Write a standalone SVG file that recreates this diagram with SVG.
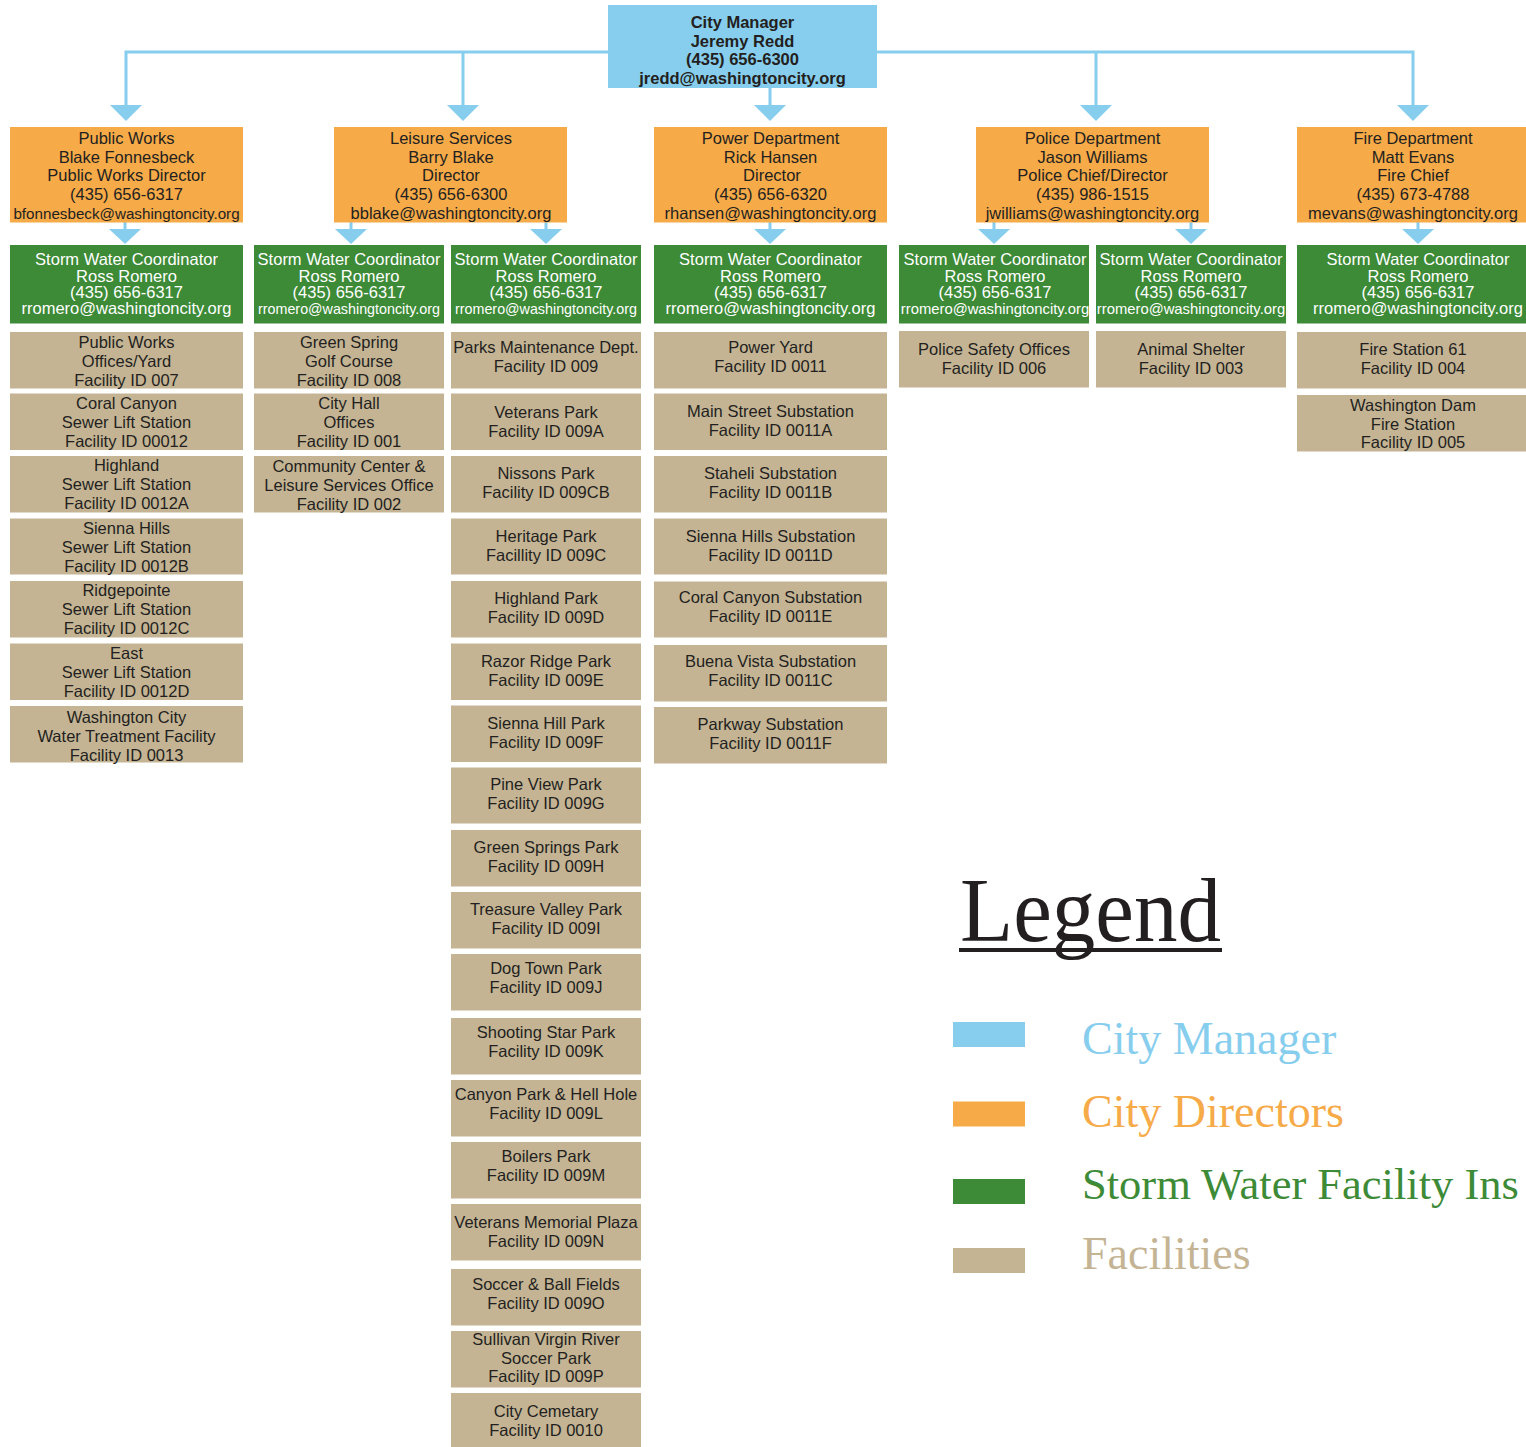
<svg xmlns="http://www.w3.org/2000/svg" width="1526" height="1447" viewBox="0 0 1526 1447">
<style>
.bg{fill:#ffffff}
.bm{fill:#87CEEE}
.bd{fill:#F6AA48}
.bs{fill:#3D8A37}
.bf{fill:#C4B494}
.t{font-family:"Liberation Sans",Arial,sans-serif;font-size:16.5px;fill:#231F20;text-anchor:middle}
.tb{font-weight:bold}
.tw{fill:#ffffff}
.sm{font-size:14.3px}
.conn{stroke:#87CEEE;stroke-width:3;fill:none}
.ah{fill:#87CEEE}
.lg{font-family:"Liberation Serif","Times New Roman",serif;font-size:46px}
</style>
<rect class="bg" x="0" y="0" width="1526" height="1447"/>

<g id="connectors">
  <path class="conn" d="M126,105 V52 H1413 V105 M463,52 V105 M1096,52 V105 M770,88 V105"/>
  <polygon class="ah" points="110,105 142,105 126,121"/>
  <polygon class="ah" points="447,105 479,105 463,121"/>
  <polygon class="ah" points="754,105 786,105 770,121"/>
  <polygon class="ah" points="1080,105 1112,105 1096,121"/>
  <polygon class="ah" points="1397,105 1429,105 1413,121"/>
  <path class="conn" d="M125,222 V230 M351,222 V230 M546,222 V230 M770,222 V230 M994,222 V230 M1191,222 V230 M1418,222 V230"/>
  <polygon class="ah" points="109,229 141,229 125,244"/>
  <polygon class="ah" points="335,229 367,229 351,244"/>
  <polygon class="ah" points="530,229 562,229 546,244"/>
  <polygon class="ah" points="754,229 786,229 770,244"/>
  <polygon class="ah" points="978,229 1010,229 994,244"/>
  <polygon class="ah" points="1175,229 1207,229 1191,244"/>
  <polygon class="ah" points="1402,229 1434,229 1418,244"/>
</g>

<g id="city-manager">
  <rect class="bm" x="608" y="5" width="269" height="83"/>
  <text class="t tb" x="742.5" y="28">City Manager</text>
  <text class="t tb" x="742.5" y="46.5">Jeremy Redd</text>
  <text class="t tb" x="742.5" y="65">(435) 656-6300</text>
  <text class="t tb" x="742.5" y="83.5">jredd@washingtoncity.org</text>
</g>

<g id="dir-public-works">
  <rect class="bd" x="10" y="127" width="233" height="95.5"/>
  <text class="t" x="126.5" y="144">Public Works</text>
  <text class="t" x="126.5" y="162.7">Blake Fonnesbeck</text>
  <text class="t" x="126.5" y="181.4">Public Works Director</text>
  <text class="t" x="126.5" y="200.1">(435) 656-6317</text>
  <text class="t" x="126.5" y="218.8" style="font-size:15.2px">bfonnesbeck@washingtoncity.org</text>
</g>
<g id="dir-leisure">
  <rect class="bd" x="334" y="127" width="233" height="95.5"/>
  <text class="t" x="451" y="144">Leisure Services</text>
  <text class="t" x="451" y="162.7">Barry Blake</text>
  <text class="t" x="451" y="181.4">Director</text>
  <text class="t" x="451" y="200.1">(435) 656-6300</text>
  <text class="t" x="451" y="218.8">bblake@washingtoncity.org</text>
</g>
<g id="dir-power">
  <rect class="bd" x="654" y="127" width="233" height="95.5"/>
  <text class="t" x="770.5" y="144">Power Department</text>
  <text class="t" x="770.5" y="162.7">Rick Hansen</text>
  <text class="t" x="772" y="181.4">Director</text>
  <text class="t" x="770.5" y="200.1">(435) 656-6320</text>
  <text class="t" x="770.5" y="218.8">rhansen@washingtoncity.org</text>
</g>
<g id="dir-police">
  <rect class="bd" x="976" y="127" width="233" height="95.5"/>
  <text class="t" x="1092.5" y="144">Police Department</text>
  <text class="t" x="1092.5" y="162.7">Jason Williams</text>
  <text class="t" x="1092.5" y="181.4">Police Chief/Director</text>
  <text class="t" x="1092.5" y="200.1">(435) 986-1515</text>
  <text class="t" x="1092.5" y="218.8">jwilliams@washingtoncity.org</text>
</g>
<g id="dir-fire">
  <rect class="bd" x="1297" y="127" width="233" height="95.5"/>
  <text class="t" x="1413" y="144">Fire Department</text>
  <text class="t" x="1413" y="162.7">Matt Evans</text>
  <text class="t" x="1413" y="181.4">Fire Chief</text>
  <text class="t" x="1413" y="200.1">(435) 673-4788</text>
  <text class="t" x="1413" y="218.8">mevans@washingtoncity.org</text>
</g>

<g id="sw-public-works">
  <rect class="bs" x="10" y="245" width="233" height="78.5"/>
  <text class="t tw" x="126.5" y="265">Storm Water Coordinator</text>
  <text class="t tw" x="126.5" y="281.5">Ross Romero</text>
  <text class="t tw" x="126.5" y="298">(435) 656-6317</text>
  <text class="t tw" x="126.5" y="314">rromero@washingtoncity.org</text>
</g>
<g id="sw-leisure-1">
  <rect class="bs" x="254" y="245" width="190" height="78.5"/>
  <text class="t tw" x="349" y="265">Storm Water Coordinator</text>
  <text class="t tw" x="349" y="281.5">Ross Romero</text>
  <text class="t tw" x="349" y="298">(435) 656-6317</text>
  <text class="t tw sm" x="349" y="314">rromero@washingtoncity.org</text>
</g>
<g id="sw-leisure-2">
  <rect class="bs" x="451" y="245" width="190" height="78.5"/>
  <text class="t tw" x="546" y="265">Storm Water Coordinator</text>
  <text class="t tw" x="546" y="281.5">Ross Romero</text>
  <text class="t tw" x="546" y="298">(435) 656-6317</text>
  <text class="t tw sm" x="546" y="314">rromero@washingtoncity.org</text>
</g>
<g id="sw-power">
  <rect class="bs" x="654" y="245" width="233" height="78.5"/>
  <text class="t tw" x="770.5" y="265">Storm Water Coordinator</text>
  <text class="t tw" x="770.5" y="281.5">Ross Romero</text>
  <text class="t tw" x="770.5" y="298">(435) 656-6317</text>
  <text class="t tw" x="770.5" y="314">rromero@washingtoncity.org</text>
</g>
<g id="sw-police-1">
  <rect class="bs" x="899" y="245" width="190" height="78.5"/>
  <text class="t tw" x="995" y="265">Storm Water Coordinator</text>
  <text class="t tw" x="995" y="281.5">Ross Romero</text>
  <text class="t tw" x="995" y="298">(435) 656-6317</text>
  <text class="t tw" x="995" y="314" style="font-size:14.8px">rromero@washingtoncity.org</text>
</g>
<g id="sw-police-2">
  <rect class="bs" x="1096" y="245" width="190" height="78.5"/>
  <text class="t tw" x="1191" y="265">Storm Water Coordinator</text>
  <text class="t tw" x="1191" y="281.5">Ross Romero</text>
  <text class="t tw" x="1191" y="298">(435) 656-6317</text>
  <text class="t tw" x="1191" y="314" style="font-size:14.8px">rromero@washingtoncity.org</text>
</g>
<g id="sw-fire">
  <rect class="bs" x="1297" y="245" width="240" height="78.5"/>
  <text class="t tw" x="1418" y="265">Storm Water Coordinator</text>
  <text class="t tw" x="1418" y="281.5">Ross Romero</text>
  <text class="t tw" x="1418" y="298">(435) 656-6317</text>
  <text class="t tw" x="1418" y="314">rromero@washingtoncity.org</text>
</g>

<!-- Public Works facilities -->
<g id="f-007"><rect class="bf" x="10" y="332" width="233" height="56.5"/><text class="t" x="126.5" y="347.5">Public Works<tspan x="126.5" dy="19">Offices/Yard</tspan><tspan x="126.5" dy="19">Facility ID 007</tspan></text></g>
<g id="f-00012"><rect class="bf" x="10" y="393.5" width="233" height="56.5"/><text class="t" x="126.5" y="408.5">Coral Canyon<tspan x="126.5" dy="19">Sewer Lift Station</tspan><tspan x="126.5" dy="19">Facility ID 00012</tspan></text></g>
<g id="f-0012A"><rect class="bf" x="10" y="456" width="233" height="56.5"/><text class="t" x="126.5" y="471">Highland<tspan x="126.5" dy="19">Sewer Lift Station</tspan><tspan x="126.5" dy="19">Facility ID 0012A</tspan></text></g>
<g id="f-0012B"><rect class="bf" x="10" y="518.5" width="233" height="56"/><text class="t" x="126.5" y="533.5">Sienna Hills<tspan x="126.5" dy="19">Sewer Lift Station</tspan><tspan x="126.5" dy="19">Facility ID 0012B</tspan></text></g>
<g id="f-0012C"><rect class="bf" x="10" y="581" width="233" height="56.5"/><text class="t" x="126.5" y="596">Ridgepointe<tspan x="126.5" dy="19">Sewer Lift Station</tspan><tspan x="126.5" dy="19">Facility ID 0012C</tspan></text></g>
<g id="f-0012D"><rect class="bf" x="10" y="643.5" width="233" height="56.5"/><text class="t" x="126.5" y="659">East<tspan x="126.5" dy="19">Sewer Lift Station</tspan><tspan x="126.5" dy="19">Facility ID 0012D</tspan></text></g>
<g id="f-0013"><rect class="bf" x="10" y="706" width="233" height="56.5"/><text class="t" x="126.5" y="722.5">Washington City<tspan x="126.5" dy="19">Water Treatment Facility</tspan><tspan x="126.5" dy="19">Facility ID 0013</tspan></text></g>

<!-- Leisure facilities col 1 -->
<g id="f-008"><rect class="bf" x="254" y="332" width="190" height="56.5"/><text class="t" x="349" y="348">Green Spring<tspan x="349" dy="19">Golf Course</tspan><tspan x="349" dy="19">Facility ID 008</tspan></text></g>
<g id="f-001"><rect class="bf" x="254" y="393.5" width="190" height="56.5"/><text class="t" x="349" y="408.5">City Hall<tspan x="349" dy="19">Offices</tspan><tspan x="349" dy="19">Facility ID 001</tspan></text></g>
<g id="f-002"><rect class="bf" x="254" y="456" width="190" height="56.5"/><text class="t" x="349" y="471.5">Community Center &amp;<tspan x="349" dy="19">Leisure Services Office</tspan><tspan x="349" dy="19">Facility ID 002</tspan></text></g>

<!-- Leisure facilities col 2 (parks) -->
<g id="f-009"><rect class="bf" x="451" y="332" width="190" height="56.5"/><text class="t" x="546" y="352.5">Parks Maintenance Dept.<tspan x="546" dy="19">Facility ID 009</tspan></text></g>
<g id="f-009A"><rect class="bf" x="451" y="393.5" width="190" height="56.5"/><text class="t" x="546" y="418">Veterans Park<tspan x="546" dy="19">Facility ID 009A</tspan></text></g>
<g id="f-009CB"><rect class="bf" x="451" y="456" width="190" height="56.5"/><text class="t" x="546" y="479">Nissons Park<tspan x="546" dy="19">Facility ID 009CB</tspan></text></g>
<g id="f-009C"><rect class="bf" x="451" y="518.5" width="190" height="56"/><text class="t" x="546" y="541.5">Heritage Park<tspan x="546" dy="19">Facillity ID 009C</tspan></text></g>
<g id="f-009D"><rect class="bf" x="451" y="581" width="190" height="56.5"/><text class="t" x="546" y="604">Highland Park<tspan x="546" dy="19">Facility ID 009D</tspan></text></g>
<g id="f-009E"><rect class="bf" x="451" y="643.5" width="190" height="56.5"/><text class="t" x="546" y="666.5">Razor Ridge Park<tspan x="546" dy="19">Facility ID 009E</tspan></text></g>
<g id="f-009F"><rect class="bf" x="451" y="705.5" width="190" height="56.5"/><text class="t" x="546" y="728.5">Sienna Hill Park<tspan x="546" dy="19">Facility ID 009F</tspan></text></g>
<g id="f-009G"><rect class="bf" x="451" y="767.5" width="190" height="56"/><text class="t" x="546" y="790">Pine View Park<tspan x="546" dy="19">Facility ID 009G</tspan></text></g>
<g id="f-009H"><rect class="bf" x="451" y="830" width="190" height="56.5"/><text class="t" x="546" y="852.5">Green Springs Park<tspan x="546" dy="19">Facility ID 009H</tspan></text></g>
<g id="f-009I"><rect class="bf" x="451" y="892" width="190" height="56.5"/><text class="t" x="546" y="915">Treasure Valley Park<tspan x="546" dy="19">Facility ID 009I</tspan></text></g>
<g id="f-009J"><rect class="bf" x="451" y="954" width="190" height="56.5"/><text class="t" x="546" y="974">Dog Town Park<tspan x="546" dy="19">Facility ID 009J</tspan></text></g>
<g id="f-009K"><rect class="bf" x="451" y="1018" width="190" height="56.5"/><text class="t" x="546" y="1038">Shooting Star Park<tspan x="546" dy="19">Facility ID 009K</tspan></text></g>
<g id="f-009L"><rect class="bf" x="451" y="1080" width="190" height="56.5"/><text class="t" x="546" y="1100">Canyon Park &amp; Hell Hole<tspan x="546" dy="19">Facility ID 009L</tspan></text></g>
<g id="f-009M"><rect class="bf" x="451" y="1142" width="190" height="56.5"/><text class="t" x="546" y="1162">Boilers Park<tspan x="546" dy="19">Facility ID 009M</tspan></text></g>
<g id="f-009N"><rect class="bf" x="451" y="1204" width="190" height="56.5"/><text class="t" x="546" y="1228">Veterans Memorial Plaza<tspan x="546" dy="19">Facility ID 009N</tspan></text></g>
<g id="f-009O"><rect class="bf" x="451" y="1269" width="190" height="56.5"/><text class="t" x="546" y="1290">Soccer &amp; Ball Fields<tspan x="546" dy="19">Facility ID 009O</tspan></text></g>
<g id="f-009P"><rect class="bf" x="451" y="1331" width="190" height="56.5"/><text class="t" x="546" y="1345">Sullivan Virgin River<tspan x="546" dy="18.7">Soccer Park</tspan><tspan x="546" dy="18.7">Facility ID 009P</tspan></text></g>
<g id="f-0010"><rect class="bf" x="451" y="1393" width="190" height="60"/><text class="t" x="546" y="1416.5">City Cemetary<tspan x="546" dy="19">Facility ID 0010</tspan></text></g>

<!-- Power facilities -->
<g id="f-0011"><rect class="bf" x="654" y="332" width="233" height="56.5"/><text class="t" x="770.5" y="353">Power Yard<tspan x="770.5" dy="19">Facility ID 0011</tspan></text></g>
<g id="f-0011A"><rect class="bf" x="654" y="393.5" width="233" height="56.5"/><text class="t" x="770.5" y="416.5">Main Street Substation<tspan x="770.5" dy="19">Facility ID 0011A</tspan></text></g>
<g id="f-0011B"><rect class="bf" x="654" y="456" width="233" height="56.5"/><text class="t" x="770.5" y="479">Staheli Substation<tspan x="770.5" dy="19">Facility ID 0011B</tspan></text></g>
<g id="f-0011D"><rect class="bf" x="654" y="518.5" width="233" height="56"/><text class="t" x="770.5" y="541.5">Sienna Hills Substation<tspan x="770.5" dy="19">Facility ID 0011D</tspan></text></g>
<g id="f-0011E"><rect class="bf" x="654" y="581.5" width="233" height="56"/><text class="t" x="770.5" y="603">Coral Canyon Substation<tspan x="770.5" dy="19">Facility ID 0011E</tspan></text></g>
<g id="f-0011C"><rect class="bf" x="654" y="645" width="233" height="56.5"/><text class="t" x="770.5" y="667">Buena Vista Substation<tspan x="770.5" dy="19">Facility ID 0011C</tspan></text></g>
<g id="f-0011F"><rect class="bf" x="654" y="707" width="233" height="56.5"/><text class="t" x="770.5" y="729.5">Parkway Substation<tspan x="770.5" dy="19">Facility ID 0011F</tspan></text></g>

<!-- Police facilities -->
<g id="f-006"><rect class="bf" x="899" y="331" width="190" height="56.5"/><text class="t" x="994" y="354.5">Police Safety Offices<tspan x="994" dy="19">Facility ID 006</tspan></text></g>
<g id="f-003"><rect class="bf" x="1096" y="331" width="190" height="56.5"/><text class="t" x="1191" y="354.5">Animal Shelter<tspan x="1191" dy="19">Facility ID 003</tspan></text></g>

<!-- Fire facilities -->
<g id="f-004"><rect class="bf" x="1297" y="332" width="240" height="56.5"/><text class="t" x="1413" y="354.5">Fire Station 61<tspan x="1413" dy="19">Facility ID 004</tspan></text></g>
<g id="f-005"><rect class="bf" x="1297" y="395" width="240" height="56.5"/><text class="t" x="1413" y="411">Washington Dam<tspan x="1413" dy="18.7">Fire Station</tspan><tspan x="1413" dy="18.7">Facility ID 005</tspan></text></g>

<!-- Legend -->
<g id="legend">
  <text x="960" y="941" style="font-family:'Liberation Serif','Times New Roman',serif;font-size:90px;fill:#231F20" textLength="261" lengthAdjust="spacingAndGlyphs">Legend</text>
  <rect x="959" y="948" width="263" height="4" fill="#231F20"/>
  <rect class="bm" x="953" y="1022" width="72" height="25"/>
  <text class="lg" x="1082" y="1053.5" fill="#87CEEE">City Manager</text>
  <rect class="bd" x="953" y="1101.5" width="72" height="25"/>
  <text class="lg" x="1082" y="1126.5" fill="#F6AA48">City Directors</text>
  <rect class="bs" x="953" y="1179" width="72" height="25"/>
  <text class="lg" x="1082" y="1199" fill="#3D8A37" style="font-size:44.5px">Storm Water Facility Ins</text>
  <rect class="bf" x="953" y="1248" width="72" height="25"/>
  <text class="lg" x="1082" y="1269" fill="#C4B494">Facilities</text>
</g>
</svg>
